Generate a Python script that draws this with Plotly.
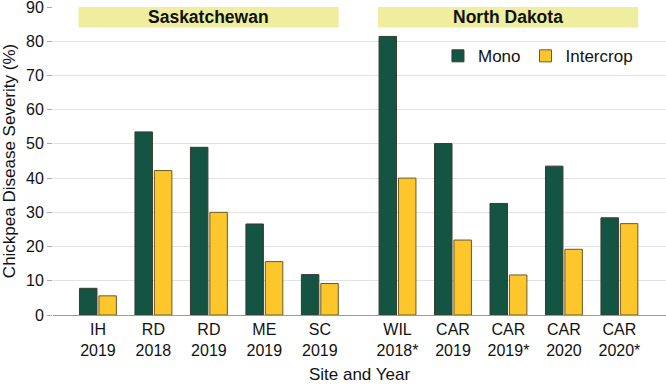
import plotly.graph_objects as go

# ---- data ----
sites = ["IH<br>2019", "RD<br>2018", "RD<br>2019", "ME<br>2019", "SC<br>2019",
         "WIL<br>2018*", "CAR<br>2019", "CAR<br>2019*", "CAR<br>2020", "CAR<br>2020*"]
regions = ["Saskatchewan"] * 5 + ["North Dakota"] * 5
mono = [7.8, 53.5, 49.0, 26.6, 11.8, 81.4, 50.1, 32.6, 43.5, 28.4]
intercrop = [5.6, 42.2, 30.0, 15.6, 9.2, 40.0, 21.9, 11.7, 19.2, 26.7]
y_ticks = [0, 10, 20, 30, 40, 50, 60, 70, 80, 90]

# ---- positions: category index with extra gap between regions ----
REGION_GAP = 0.4
xpos = []
for i, r in enumerate(regions):
    extra = REGION_GAP if r == "North Dakota" else 0.0
    xpos.append(i + extra)

FONT = "Liberation Sans, Arial, Helvetica, sans-serif"
MONO_C = "#145443"
INTER_C = "#fdc62a"
HEAD_C = "#eeee9e"

fig = go.Figure()
fig.add_trace(go.Bar(x=xpos, y=mono, name="Mono",
                     marker=dict(color=MONO_C, line=dict(color="#3a3a30", width=1))))
fig.add_trace(go.Bar(x=xpos, y=intercrop, name="Intercrop",
                     marker=dict(color=INTER_C, line=dict(color="#6a5a25", width=1))))

# region header boxes
for reg in ["Saskatchewan", "North Dakota"]:
    idx = [p for p, r in zip(xpos, regions) if r == reg]
    x0, x1 = min(idx) - 0.35, max(idx) + 0.34
    fig.add_shape(type="rect", xref="x", yref="y", x0=x0, x1=x1, y0=84.0, y1=90.4,
                  fillcolor=HEAD_C, line=dict(width=0), layer="above")
    fig.add_annotation(x=(x0 + x1) / 2, y=87.2, xref="x", yref="y", text="<b>%s</b>" % reg,
                       showarrow=False, font=dict(family=FONT, size=17.5, color="#111"))

fig.update_layout(
    width=666, height=384,
    margin=dict(l=53, r=0, t=7, b=69, autoexpand=False),
    paper_bgcolor="white", plot_bgcolor="white",
    font=dict(family=FONT, size=16, color="#111"),
    barmode="group", bargap=0.3, bargroupgap=0.1,
    showlegend=True,
    legend=dict(orientation="h", x=0.628, y=0.84, xanchor="left", yanchor="middle",
                font=dict(family=FONT, size=17, color="#111"),
                bgcolor="rgba(0,0,0,0)", itemwidth=30),
)
fig.update_xaxes(
    range=[-0.81, 10.24], tickmode="array", tickvals=xpos, ticktext=sites,
    showgrid=False, zeroline=False, showline=True, linecolor="#9a9a9a", linewidth=1,
    ticks="", tickfont=dict(size=16), automargin=False,
    title=dict(text="Site and Year", font=dict(size=17), standoff=15),
)
fig.update_yaxes(
    range=[0, 90], tickmode="array", tickvals=y_ticks,
    showgrid=True, gridcolor="#e2e2e2", gridwidth=1, zeroline=False,
    showline=False, ticks="outside", ticklen=5, tickcolor="#aaaaaa",
    tickfont=dict(size=16), automargin=False, ticklabeloverflow="allow",
    title=dict(text="Chickpea Disease Severity (%)", font=dict(size=17), standoff=10),
)

fig.write_html("out.html", config={"displayModeBar": False},
               post_script="document.body.style.margin='0';")
